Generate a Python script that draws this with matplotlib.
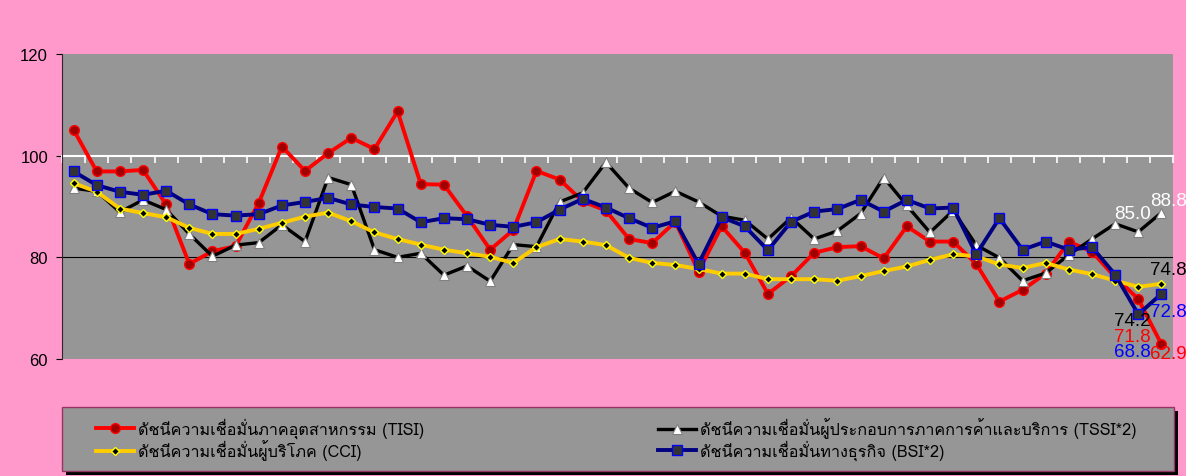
import numpy as np
import matplotlib
matplotlib.use("Agg")
import matplotlib.pyplot as plt
from matplotlib import font_manager
from matplotlib.ft2font import FT2Font
from matplotlib.lines import Line2D
from matplotlib.patches import Rectangle

# values (48 monthly points)
tisi = [105.1, 96.9, 96.9, 97.2, 90.4, 78.7, 81.2, 82.2, 90.7, 101.8, 97.0, 100.5,
        103.5, 101.3, 108.7, 94.4, 94.3, 88.1, 81.5, 85.4, 97.0, 95.3, 91.0, 89.2,
        83.6, 82.8, 87.0, 77.2, 86.1, 80.9, 72.8, 76.3, 80.9, 82.0, 82.2, 79.8,
        86.1, 83.1, 83.1, 78.7, 71.3, 73.6, 76.8, 83.1, 81.1, 76.1, 71.8, 62.9]
tssi = [93.6, 93.0, 88.9, 91.3, 89.4, 84.6, 80.2, 82.4, 82.9, 86.4, 83.1, 95.7,
        94.3, 81.5, 80.0, 80.8, 76.5, 78.3, 75.3, 82.5, 82.1, 90.9, 92.7, 98.7,
        93.6, 90.8, 93.0, 90.9, 88.1, 87.3, 83.6, 87.8, 83.6, 85.2, 88.6, 95.7,
        90.2, 84.9, 89.2, 82.4, 79.9, 75.4, 76.9, 80.5, 83.6, 86.6, 85.0, 88.8]
cci = [94.6, 92.9, 89.6, 88.7, 87.9, 85.8, 84.6, 84.6, 85.6, 86.8, 88.0, 88.8,
       87.1, 84.9, 83.6, 82.5, 81.5, 80.8, 80.1, 78.9, 82.0, 83.6, 83.1, 82.4,
       79.9, 78.9, 78.5, 77.7, 76.8, 76.8, 75.7, 75.7, 75.7, 75.4, 76.3, 77.3,
       78.2, 79.5, 80.6, 80.2, 78.6, 77.9, 78.9, 77.6, 76.7, 75.4, 74.2, 74.8]
bsi = [96.9, 94.2, 92.9, 92.3, 93.1, 90.4, 88.5, 88.2, 88.5, 90.2, 90.9, 91.7,
       90.4, 89.9, 89.6, 86.9, 87.7, 87.5, 86.4, 86.0, 86.9, 89.4, 91.5, 89.8,
       87.7, 85.8, 87.1, 78.7, 87.9, 86.1, 81.4, 87.0, 89.0, 89.5, 91.3, 89.0,
       91.3, 89.6, 89.8, 80.6, 87.7, 81.5, 83.1, 81.5, 82.0, 76.6, 68.8, 72.8]

labels = {
    "tisi": "ดัชนีความเชื่อมั่นภาคอุตสาหกรรม (TISI)",
    "tssi": "ดัชนีความเชื่อมั่นผู้ประกอบการภาคการค้าและบริการ (TSSI*2)",
    "cci": "ดัชนีความเชื่อมั่นผู้บริโภค (CCI)",
    "bsi": "ดัชนีความเชื่อมั่นทางธุรกิจ (BSI*2)",
}
y_ticks = [60, 80, 100, 120]


def find_thai_font():
    # pick an installed family that actually has Thai glyphs
    for f in font_manager.fontManager.ttflist:
        try:
            if 0x0E14 in FT2Font(f.fname).get_charmap():
                return f.name
        except Exception:
            pass
    return "DejaVu Sans"


thai_font = find_thai_font()
plt.rcParams["font.family"] = ["Liberation Sans", thai_font, "DejaVu Sans"]

PINK = "#FF99CC"
GREY = "#969696"

fig = plt.figure(figsize=(11.86, 4.77), dpi=100, facecolor=PINK)
ax = fig.add_axes([62 / 1186, 117 / 477, 1111 / 1186, 305 / 477])
ax.set_facecolor(GREY)

x = np.arange(len(tisi))

styles = {
    "tisi": dict(color="#FF0000", lw=2.8, marker="o", ms=7, mfc="#A00000", mec="#FF0000", mew=1.0),
    "tssi": dict(color="#000000", lw=2.4, marker="^", ms=6.5, mfc="#FFFFFF", mec="#808080", mew=0.8),
    "cci": dict(color="#FFCC00", lw=2.8, marker="D", ms=4.5, mfc="#000000", mec="#FFFF00", mew=1.0),
    "bsi": dict(color="#000080", lw=2.8, marker="s", ms=7, mfc="#333333", mec="#0000FF", mew=1.0),
}
series = {"tisi": tisi, "tssi": tssi, "cci": cci, "bsi": bsi}

ax.axhline(80, color="#000000", lw=0.8, zorder=1)

for key in ["tisi", "tssi", "cci", "bsi"]:
    ax.plot(x, series[key], zorder=3, **styles[key])

ax.set_xlim(-0.5, len(x) - 0.5)
ax.set_ylim(60, 120)
ax.set_yticks(y_ticks)
ax.tick_params(axis="y", length=4, width=0.8, pad=6, labelsize=12, colors="black")

# category axis crosses at 100 in the original chart
ax.spines["bottom"].set_position(("data", 100))
ax.spines["bottom"].set_color("white")
ax.spines["bottom"].set_linewidth(1.5)
ax.spines["bottom"].set_zorder(2)
ax.set_xticks(np.arange(-0.5, len(x), 1))
ax.set_xticklabels([])
ax.tick_params(axis="x", direction="out", length=5, width=1.2, color="white")
ax.spines["left"].set_color("#3a2030")
ax.spines["top"].set_visible(False)
ax.spines["right"].set_visible(False)

# data labels on the last two months
last = len(x) - 1
label_spec = [
    ("tssi", last - 1, (-4, 13), "white"),
    ("tssi", last, (5, 9), "white"),
    ("cci", last, (5, 10), "black"),
    ("cci", last - 1, (-4, -24), "black"),
    ("bsi", last, (5, -13), "#0000FF"),
    ("tisi", last - 1, (-4, -27), "#FF0000"),
    ("bsi", last - 1, (-4, -27), "#0000FF"),
    ("tisi", last, (5, -7), "#FF0000"),
]
for key, i, off, col in label_spec:
    v = series[key][i]
    ax.annotate(f"{v:.1f}", xy=(x[i], v), xytext=off, textcoords="offset points",
                ha="center", va="center", fontsize=13.5, color=col,
                annotation_clip=False, zorder=5)

# legend box with shadow
lx, ly, lw_, lh = 62 / 1186, 5 / 477, 1112 / 1186, 64 / 477
fig.patches.append(Rectangle((lx + 4 / 1186, ly - 4 / 477), lw_, lh, transform=fig.transFigure,
                             facecolor="black", edgecolor="none", zorder=0))
fig.patches.append(Rectangle((lx, ly), lw_, lh, transform=fig.transFigure,
                             facecolor=GREY, edgecolor="#993366", lw=1.0, zorder=1))


def legend_handle(key):
    s = styles[key]
    return Line2D([], [], color=s["color"], lw=s["lw"], marker=s["marker"], ms=s["ms"],
                  mfc=s["mfc"], mec=s["mec"], mew=s["mew"])


for keys, xpos in [(["tisi", "cci"], 93 / 1186), (["tssi", "bsi"], 655 / 1186)]:
    fig.legend([legend_handle(k) for k in keys], [labels[k] for k in keys],
               loc="upper left", bbox_to_anchor=(xpos, 62 / 477), frameon=False,
               handlelength=2.3, handletextpad=0.3, labelspacing=0.1,
               borderaxespad=0, borderpad=0.2,
               prop={"family": [thai_font, "Liberation Sans"], "size": 11.7})

fig.savefig("out.png", dpi=100, facecolor=PINK)
